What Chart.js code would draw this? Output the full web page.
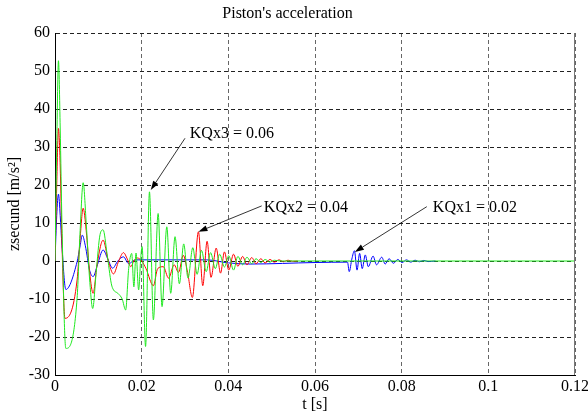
<!DOCTYPE html>
<html>
<head>
<meta charset="utf-8">
<title>Piston's acceleration</title>
<script src="https://cdn.jsdelivr.net/npm/chart.js@4/dist/chart.umd.min.js"></script>
<style>
  html, body { margin: 0; padding: 0; background: #fff; }
  #plot { display: block; }
</style>
</head>
<body>
<canvas id="plot" width="588" height="417"></canvas>
<script>
// time axis ticks
const xTicks = [0, 0.02, 0.04, 0.06, 0.08, 0.1, 0.12];
const xTickLabels = ['0', '0.02', '0.04', '0.06', '0.08', '0.1', '0.12'];

// KQx3 = 0.06 (green)
const tGreen = [0, 0.0004, 0.0008, 0.0012, 0.0016, 0.0025, 0.0051, 0.0058, 0.0065, 0.0072,
  0.0080, 0.0087, 0.0095, 0.0104, 0.0111, 0.0120, 0.0130, 0.0135, 0.0145, 0.0155,
  0.0163, 0.0170, 0.0177, 0.0182, 0.0187, 0.0193, 0.0198, 0.0201, 0.0209, 0.0218,
  0.0227, 0.0238, 0.0247, 0.0258, 0.0267, 0.0277, 0.0287, 0.0297, 0.0307, 0.0318,
  0.0328, 0.0338, 0.0349, 0.0359, 0.0370, 0.0380, 0.0391, 0.0401, 0.0412, 0.0422,
  0.0433, 0.0443, 0.0454, 0.0464, 0.0475, 0.0485, 0.0496, 0.0506, 0.0520, 0.12];
const accGreen = [0, 30, 52.7, 35, 10, -23, -9.8, 8, 20.6, 10,
  -5, -12.5, -3, 7, 8.2, 2, -6, -7.6, -8.5, -10,
  -12.9, -2, 2, -6.8, 2.1, -7.6, 1, 3.8, -22.5, 18.2,
  -15.5, 12.5, -12, 9, -8.5, 6.4, -6, 4.5, -4.5, 3.5,
  -3.5, 2.8, -2.8, 2.2, -2, 1.8, -1.6, 1.4, -2.4, 1.2,
  -1, 1, -0.7, 0.6, -0.4, 0.4, -0.3, 0.2, 0, 0];

// KQx2 = 0.04 (red)
const tRed = [0, 0.0004, 0.0008, 0.0012, 0.0016, 0.0023, 0.0051, 0.0058, 0.0065, 0.0072,
  0.0080, 0.0088, 0.0097, 0.0111, 0.0123, 0.0135, 0.0147, 0.0158, 0.0167, 0.0175,
  0.0182, 0.0190, 0.0200, 0.0210, 0.0227, 0.0237, 0.0250, 0.0262, 0.0275, 0.0285,
  0.0296, 0.0306, 0.0317, 0.0331, 0.0341, 0.0351, 0.0360, 0.0372, 0.0382, 0.0391,
  0.0401, 0.0412, 0.0422, 0.0433, 0.0443, 0.0454, 0.0464, 0.0475, 0.0485, 0.0496,
  0.0506, 0.0517, 0.0527, 0.0538, 0.0548, 0.0560];
const accRed = [0, 20, 34.9, 25, 5, -15.1, -5, 6, 13.9, 8,
  -3, -8.5, -1, 5.5, 0, -3.4, 0, 2.2, 0.5, -1.5,
  0, 0.8, 0, -2, -6.5, -2, -1.5, -4.5, -1, -3,
  1.5, -3, -9.6, 7.7, -6.5, 5.2, -4.3, 3.4, -3.2, 2.4,
  -2.4, 1.8, -1.4, 1.2, -1, 0.9, -0.7, 0.6, -0.5, 0.4,
  -0.3, 0.3, -0.2, 0.2, -0.1, 0];

// KQx1 = 0.02 (blue)
const tBlue = [0, 0.0004, 0.0008, 0.0012, 0.0016, 0.0025, 0.0051, 0.0058, 0.0063, 0.0070,
  0.0080, 0.0088, 0.0098, 0.0111, 0.0122, 0.0133, 0.0145, 0.0158, 0.0170, 0.0185,
  0.0200, 0.0350, 0.0400, 0.0450, 0.0600, 0.0675, 0.0679, 0.0685, 0.0691, 0.0697,
  0.0703, 0.0709, 0.0716, 0.0723, 0.0734, 0.0742, 0.0754, 0.0762, 0.0771, 0.0781,
  0.0791, 0.0801, 0.0811, 0.0821, 0.0831, 0.0841, 0.0851, 0.0861, 0.0878];
const accBlue = [0, 12, 17.6, 12, 4, -7.5, -0.2, 4, 6.8, 4,
  -2.5, -4.1, -1, 2.9, 0.5, -1.9, 0, 1.1, -0.7, 0.3,
  0.3, 0.3, -0.5, -0.8, -0.4, -0.3, -2.8, 0.5, 2.7, -2.4,
  2.0, -2.0, 1.6, -1.5, 1.3, -1.0, 1.0, -0.8, 0.6, -0.6,
  0.4, -0.4, 0.3, -0.3, 0.2, -0.2, 0.15, -0.15, 0];

// labels with arrows: text anchor, arrow tail, arrow tip (data units)
const callouts = [
  { text: 'KQx3 = 0.06', tx: 0.0311, ty: 33.5, x0: 0.0300, y0: 32.3, x1: 0.0221, y1: 18.7 },
  { text: 'KQx2 = 0.04', tx: 0.0482, ty: 13.9, x0: 0.0477, y0: 14.5, x1: 0.0331, y1: 7.7 },
  { text: 'KQx1 = 0.02', tx: 0.0872, ty: 13.9, x0: 0.0858, y0: 14.3, x1: 0.0692, y1: 2.4 }
];

const FONT = 'Liberation Serif, "Times New Roman", serif';
const FS = 16;

function pts(ts, vs) {
  return ts.map((t, i) => ({ x: t, y: vs[i] }));
}

// arrows + text, and the solid right edge of the box
const calloutPlugin = {
  id: 'callouts',
  afterDatasetsDraw(chart) {
    const { ctx, scales: { x, y }, chartArea } = chart;
    ctx.save();
    ctx.strokeStyle = '#777';
    ctx.lineWidth = 1;
    ctx.beginPath();
    ctx.moveTo(chartArea.right - 0.5, chartArea.top);
    ctx.lineTo(chartArea.right - 0.5, chartArea.bottom);
    ctx.stroke();

    ctx.font = FS + 'px ' + FONT;
    ctx.textBaseline = 'middle';
    ctx.textAlign = 'left';
    callouts.forEach(c => {
      const ax = x.getPixelForValue(c.x0), ay = y.getPixelForValue(c.y0);
      const bx = x.getPixelForValue(c.x1), by = y.getPixelForValue(c.y1);
      const ang = Math.atan2(by - ay, bx - ax);
      const len = 9, half = 3;
      ctx.strokeStyle = '#000';
      ctx.fillStyle = '#000';
      ctx.lineWidth = 0.8;
      ctx.beginPath();
      ctx.moveTo(ax, ay);
      ctx.lineTo(bx - Math.cos(ang) * len, by - Math.sin(ang) * len);
      ctx.stroke();
      ctx.beginPath();
      ctx.moveTo(bx, by);
      ctx.lineTo(bx - Math.cos(ang) * len - Math.sin(ang) * half, by - Math.sin(ang) * len + Math.cos(ang) * half);
      ctx.lineTo(bx - Math.cos(ang) * len + Math.sin(ang) * half, by - Math.sin(ang) * len - Math.cos(ang) * half);
      ctx.closePath();
      ctx.fill();
      ctx.fillText(c.text, x.getPixelForValue(c.tx), y.getPixelForValue(c.ty));
    });
    ctx.restore();
  }
};

const lineStyle = { borderWidth: 1, pointRadius: 0, cubicInterpolationMode: 'monotone', fill: false };

new Chart(document.getElementById('plot'), {
  type: 'line',
  data: {
    datasets: [
      { label: 'KQx3 = 0.06', data: pts(tGreen, accGreen), borderColor: '#1ee81e', ...lineStyle },
      { label: 'KQx2 = 0.04', data: pts(tRed, accRed), borderColor: '#ff0000', ...lineStyle },
      { label: 'KQx1 = 0.02', data: pts(tBlue, accBlue), borderColor: '#0000ff', ...lineStyle }
    ]
  },
  options: {
    responsive: false,
    animation: false,
    layout: { padding: { top: 0, right: 13, bottom: 0, left: 0 } },
    plugins: {
      legend: { display: false },
      tooltip: { enabled: false },
      title: {
        display: true,
        text: "Piston's acceleration",
        color: '#000',
        font: { family: FONT, size: FS, weight: 'normal' },
        padding: { top: 4, bottom: 9.8 }
      }
    },
    scales: {
      x: {
        type: 'linear',
        min: 0,
        max: 0.12,
        afterBuildTicks: scale => { scale.ticks = xTicks.map(v => ({ value: v })); },
        afterFit: scale => {
          scale.height = 42;
          // let "0.12" run into the margin instead of shrinking the plot
          scale.paddingRight = 13;
        },
        ticks: {
          color: '#000',
          font: { family: FONT, size: FS },
          padding: 2,
          maxRotation: 0,
          callback: (v, i) => xTickLabels[i]
        },
        grid: { color: '#666', drawTicks: false, lineWidth: 1 },
        border: { color: '#000', width: 1, dash: [4, 3] },
        title: {
          display: true,
          text: 't [s]',
          color: '#000',
          font: { family: FONT, size: FS },
          padding: { top: 0, bottom: 2.5 }
        }
      },
      y: {
        min: -30,
        max: 60,
        afterFit: scale => { scale.width = 55; },
        ticks: {
          stepSize: 10,
          color: '#000',
          font: { family: FONT, size: FS },
          padding: 5
        },
        grid: { color: '#222', drawTicks: false, lineWidth: 1 },
        border: { color: '#000', width: 1, dash: [4, 3] },
        title: {
          display: true,
          text: 'zsecund [m/s²]',
          color: '#000',
          font: { family: FONT, size: FS },
          padding: { top: 5, bottom: 0 }
        }
      }
    }
  },
  plugins: [calloutPlugin]
});
</script>
</body>
</html>
